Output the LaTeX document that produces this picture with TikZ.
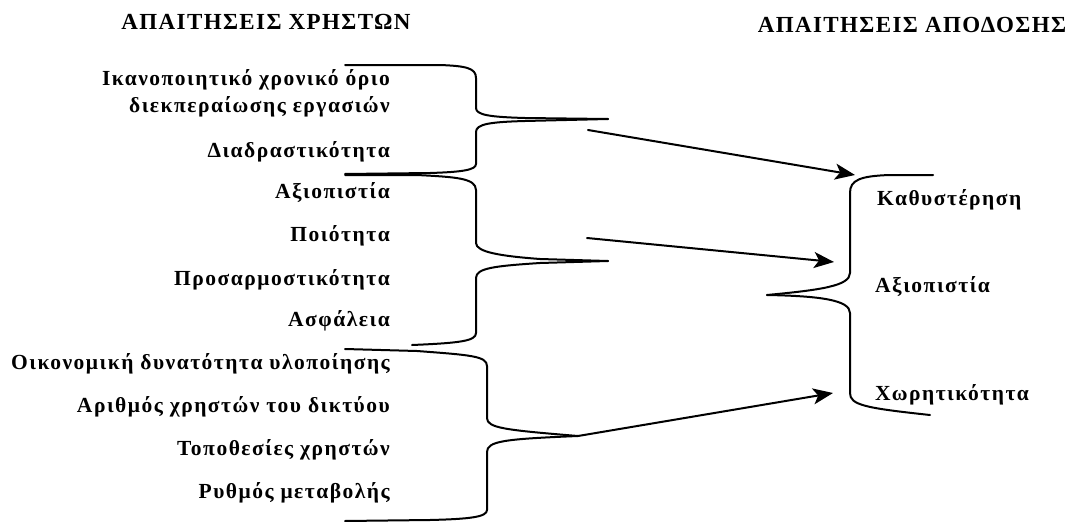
\documentclass[tikz,border=0pt]{standalone}
\usepackage{fontspec}
\setmainfont{Liberation Serif}
\newfontfamily\itemfont[LetterSpace=7]{Liberation Serif}
\newfontfamily\headfont[LetterSpace=6]{Liberation Serif}
\usetikzlibrary{arrows.meta}
\begin{document}
\begin{tikzpicture}[x=1pt,y=-1pt,
  item/.style={font=\itemfont\bfseries\fontsize{21.5}{24}\selectfont,
    inner sep=0pt, text height=15pt, text depth=5pt},
  head/.style={font=\headfont\bfseries\fontsize{23}{25}\selectfont,
    inner sep=0pt, text height=16pt, text depth=0pt},
  brace/.style={line width=2pt, line join=round, line cap=round},
  link/.style={line width=2pt, line cap=round,
    -{Stealth[length=20pt,width=16pt,inset=5pt]}}]
\useasboundingbox (0,0) rectangle (1072,522);

% column headings
\node[head] (hu) at (266,22) {ΑΠΑΙΤΗΣΕΙΣ ΧΡΗΣΤΩΝ};
\node[head] (hp) at (912,24) {ΑΠΑΙΤΗΣΕΙΣ ΑΠΟΔΟΣΗΣ};

% user requirements, right aligned
\begin{scope}[every node/.style={item, anchor=east}]
  \node (u1a) at (390,80)  {Ικανοποιητικό χρονικό όριο};
  \node (u1b) at (390,107) {διεκπεραίωσης εργασιών};
  \node (u2)  at (390,152) {Διαδραστικότητα};
  \node (u3)  at (390,193) {Αξιοπιστία};
  \node (u4)  at (390,236) {Ποιότητα};
  \node (u5)  at (390,280) {Προσαρμοστικότητα};
  \node (u6)  at (390,321) {Ασφάλεια};
  \node (u7)  at (390,364) {Οικονομική δυνατότητα υλοποίησης};
  \node (u8)  at (390,407) {Αριθμός χρηστών του δικτύου};
  \node (u9)  at (390,450) {Τοποθεσίες χρηστών};
  \node (u10) at (390,493) {Ρυθμός μεταβολής};
\end{scope}

% performance requirements, left aligned
\begin{scope}[every node/.style={item, anchor=west}]
  \node (p1) at (877,200) {Καθυστέρηση};
  \node (p2) at (875,287) {Αξιοπιστία};
  \node (p3) at (875,395) {Χωρητικότητα};
\end{scope}

% tips of the grouping braces
\coordinate (ta) at (608,119);
\coordinate (tb) at (608,261);
\coordinate (tc) at (578,436);
\coordinate (tr) at (767,295);

% brace A: items 1-2
\draw[brace] (345,65) -- (440,65) .. controls (466,66) and (476,68) .. (476,78)
  -- (476,108) .. controls (476,115) and (490,117) .. (525,118) -- (ta);
\draw[brace] (ta) -- (525,121) .. controls (490,122) and (476,124) .. (476,132)
  -- (476,164) .. controls (476,170) and (462,172) .. (430,173) -- (345,174);

% brace B: items 3-6
\draw[brace] (345,175) -- (417,175) .. controls (455,177) and (476,178) .. (476,190)
  -- (476,243) .. controls (476,252) and (500,256) .. (540,259) -- (tb);
\draw[brace] (tb) -- (540,263) .. controls (495,266) and (476,268) .. (476,278)
  -- (476,333) .. controls (476,341) and (460,343) .. (412,345);

% brace C: items 7-10
\draw[brace] (345,349) -- (417,351) .. controls (470,355) and (487,356) .. (487,366)
  -- (487,418) .. controls (487,428) and (505,430) .. (tc);
\draw[brace] (tc) .. controls (505,439) and (487,441) .. (487,452)
  -- (487,510) .. controls (487,517) and (470,519) .. (430,520) -- (345,521);

% brace on the performance side
\draw[brace] (933,175) -- (890,175) .. controls (860,176) and (850,180) .. (850,193)
  -- (850,273) .. controls (850,286) and (820,290) .. (tr);
\draw[brace] (tr) .. controls (820,296) and (850,300) .. (850,313)
  -- (850,393) .. controls (850,405) and (865,408) .. (930,415);

% mappings
\coordinate (sa) at (588,130);
\coordinate (sb) at (587,238);
\coordinate (ea) at (855,175);
\coordinate (eb) at (834,262);
\coordinate (ec) at (833,393);
\draw[link] (sa) -- (ea);
\draw[link] (sb) -- (eb);
\draw[link] (tc) -- (ec);
\end{tikzpicture}
\end{document}
